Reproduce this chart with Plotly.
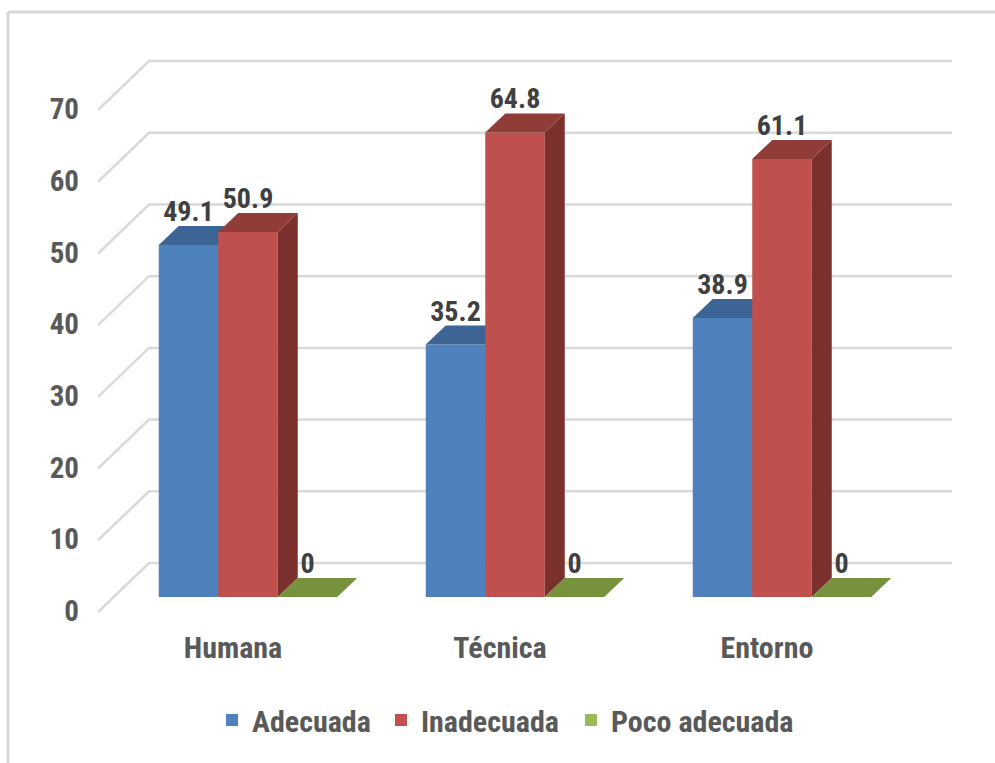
import plotly.graph_objects as go

categories = ["Humana", "Técnica", "Entorno"]
adecuada = [49.1, 35.2, 38.9]
inadecuada = [50.9, 64.8, 61.1]
poco_adecuada = [0, 0, 0]
y_ticks = [0, 10, 20, 30, 40, 50, 60, 70]

WIDTH, HEIGHT = 995, 763
LEFT, RIGHT, TOP, BOTTOM = 98, 952, 40, 620
FLOOR_PX = 597           # pixel row of value 0 on the front plane
PX_PER_UNIT = 7.17       # vertical pixels per value unit
PX_PER_GROUP = 267       # horizontal pixels per category
GROUP0_PX = 248          # pixel column of the first category centre

def ux(px):
    return px / PX_PER_GROUP

def uy(px):
    return px / PX_PER_UNIT

x_range = [(LEFT - GROUP0_PX) / PX_PER_GROUP, (RIGHT - GROUP0_PX) / PX_PER_GROUP]
y_range = [(FLOOR_PX - BOTTOM) / PX_PER_UNIT, (FLOOR_PX - TOP) / PX_PER_UNIT]

BAR_W = ux(59.5)
DEPTH_X, DEPTH_Y = ux(20), uy(19)
WALL_X = ux(51)
WALL_Y, FRONT_Y = uy(34), uy(-15)

TEXT_DARK = "#404040"
TEXT_GREY = "#595959"
GRID = "#d9d9d9"
FONT = "'Roboto Condensed', 'Liberation Sans', sans-serif"

series = [
    ("Adecuada", adecuada, "#4f81bd", "#3c6494", "#345880", "y2", "legend"),
    ("Inadecuada", inadecuada, "#c0504d", "#903c39", "#7c302e", "y3", "legend2"),
    ("Poco adecuada", poco_adecuada, "#9bbb59", "#76923c", "#5f7530", "y4", "legend3"),
]

fig = go.Figure()

# Perspective gridlines: a short floor diagonal, then the back wall
for tick in y_ticks:
    fig.add_trace(go.Scatter(
        x=[x_range[0], x_range[0] + WALL_X, x_range[1]],
        y=[tick + FRONT_Y, tick + WALL_Y, tick + WALL_Y],
        mode="lines", line=dict(color=GRID, width=2.5),
        showlegend=False, hoverinfo="skip", yaxis="y",
    ))

for s, (name, values, front, top, side, axis, legend_id) in enumerate(series):
    offsets = [i + (s - 1.5) * BAR_W for i in range(len(categories))]
    # Front faces
    fig.add_trace(go.Bar(
        x=offsets, y=values, width=BAR_W, offset=0, name=name, legend=legend_id,
        showlegend=True, marker=dict(color=front, line=dict(width=0)), yaxis=axis,
    ))
    # Top and side faces of the extruded boxes, with the value label above
    for x0, v in zip(offsets, values):
        x1 = x0 + BAR_W
        fig.add_trace(go.Scatter(
            x=[x1, x1 + DEPTH_X, x1 + DEPTH_X, x1, x1],
            y=[0, DEPTH_Y, v + DEPTH_Y, v, 0],
            fill="toself", fillcolor=side, mode="none",
            showlegend=False, hoverinfo="skip", yaxis=axis,
        ))
        fig.add_trace(go.Scatter(
            x=[x0, x1, x1 + DEPTH_X, x0 + DEPTH_X, x0],
            y=[v, v, v + DEPTH_Y, v + DEPTH_Y, v],
            fill="toself", fillcolor=top, mode="none",
            showlegend=False, hoverinfo="skip", yaxis=axis,
        ))
        fig.add_trace(go.Scatter(
            x=[x0 + BAR_W / 2], y=[v + uy(31)], text=[f"{v:g}"],
            mode="text", textposition="middle center",
            textfont=dict(family=FONT, size=28, color=TEXT_DARK, weight="bold"),
            showlegend=False, hoverinfo="skip", yaxis=axis,
        ))

# Chart frame: only its top and left edges fall inside the page
def px_x(px):
    return (px - LEFT) / (RIGHT - LEFT)

def px_y(px):
    return (BOTTOM - px) / (BOTTOM - TOP)

frame = dict(type="line", xref="paper", yref="paper", line=dict(color="#d9d9d9", width=3), layer="below")
shapes = [
    dict(frame, x0=px_x(8), x1=px_x(WIDTH + 5), y0=px_y(12), y1=px_y(12)),
    dict(frame, x0=px_x(8), x1=px_x(8), y0=px_y(12), y1=px_y(HEIGHT + 5)),
]

hidden = dict(range=y_range, overlaying="y", visible=False, fixedrange=True)

def legend_at(px):
    return dict(
        orientation="h", x=px_x(px), xanchor="left", y=px_y(720), yanchor="middle",
        bgcolor="rgba(0,0,0,0)",
        font=dict(family=FONT, size=30, color=TEXT_GREY, weight="bold"),
    )

fig.update_layout(
    width=WIDTH, height=HEIGHT,
    margin=dict(l=LEFT, r=WIDTH - RIGHT, t=TOP, b=HEIGHT - BOTTOM, autoexpand=False),
    paper_bgcolor="white", plot_bgcolor="rgba(0,0,0,0)",
    barmode="overlay", shapes=shapes,
    font=dict(family=FONT, color=TEXT_GREY),
    xaxis=dict(
        range=x_range, tickvals=list(range(len(categories))), ticktext=categories,
        showgrid=False, zeroline=False, showline=False, ticks="",
        ticklabelshift=-15, ticklabelstandoff=7,
        tickfont=dict(family=FONT, size=30, color=TEXT_GREY, weight="bold"),
    ),
    yaxis=dict(
        range=y_range, tickvals=y_ticks, showgrid=False, zeroline=False,
        showline=False, ticks="", ticklabelshift=14, ticklabelstandoff=18,
        tickfont=dict(family=FONT, size=29, color=TEXT_GREY, weight="bold"),
    ),
    yaxis2=hidden, yaxis3=hidden, yaxis4=hidden,
    legend=legend_at(212), legend2=legend_at(381), legend3=legend_at(571),
)

fig.write_html("out.html", config=dict(displayModeBar=False))
